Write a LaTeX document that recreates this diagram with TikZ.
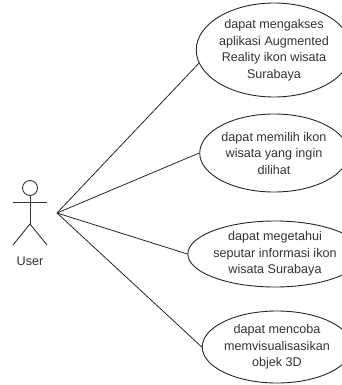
\documentclass[tikz,border=0pt]{standalone}
\usepackage{fontspec}
\setmainfont{Liberation Sans}
\usetikzlibrary{shapes.geometric}
\begin{document}
\begin{tikzpicture}[x=1pt,y=-1pt,
  uc/.style={ellipse,draw=black!85,line width=0.9pt,inner sep=0pt,align=center,
    font=\fontsize{12.6}{16.5}\selectfont,text=black!80},
  conn/.style={draw=black!85,line width=0.8pt},
  actorline/.style={draw=black!80,line width=0.9pt}]
\useasboundingbox (0,0) rectangle (341,385);
% use cases
\node[uc,minimum width=132pt,minimum height=94pt] (u1) at (274,50) {dapat mengakses\\aplikasi Augmented\\Reality ikon wisata\\Surabaya};
\node[uc,minimum width=132pt,minimum height=78pt] (u2) at (274,153) {dapat memilih ikon\\wisata yang ingin\\dilihat};
\node[uc,minimum width=132pt,minimum height=66pt] (u3) at (275,254) {dapat megetahui\\seputar informasi ikon\\wisata Surabaya};
\node[uc,minimum width=128pt,minimum height=72pt] (u4) at (277,347) {dapat mencoba\\memvisualisasikan\\objek 3D};
% actor
\node[circle,draw=black!80,line width=0.9pt,minimum size=15pt,inner sep=0pt] (head) at (30,188) {};
\coordinate (hip) at (30,224);
\coordinate (larm) at (13,202);
\coordinate (rarm) at (47,202);
\coordinate (lfoot) at (13,245);
\coordinate (rfoot) at (47,245);
\draw[actorline] (head.south) -- (hip);
\draw[actorline] (larm) -- (rarm);
\draw[actorline] (lfoot) -- (hip) -- (rfoot);
\node[font=\fontsize{12.6}{15}\selectfont,text=black!80] (user) at (30,261) {User};
% connectors
\coordinate (src) at (57,213);
\draw[conn] (src) -- (u1.190);
\draw[conn] (src) -- (u2.west);
\draw[conn] (src) -- (u3.west);
\draw[conn] (src) -- (u4.west);
\end{tikzpicture}
\end{document}
